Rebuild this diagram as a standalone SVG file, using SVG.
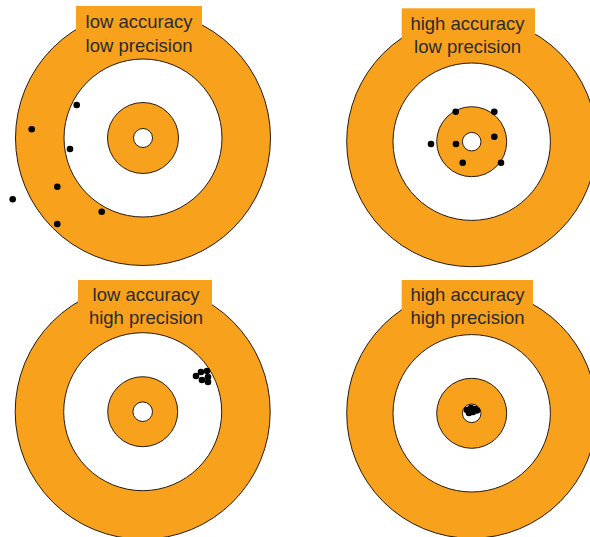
<svg xmlns="http://www.w3.org/2000/svg" width="590" height="537" viewBox="0 0 590 537">
<style>
.o{fill:#F7A11D;stroke:#2a1a0a;stroke-width:1}
.w{fill:#fff;stroke:#2a1a0a;stroke-width:1}
.box{fill:#F7A11D}
.t{font-family:"Liberation Sans",Arial,sans-serif;font-size:18.5px;fill:#2b2b2b;text-anchor:middle}
.d{fill:#000}
</style>
<rect width="590" height="537" fill="#fff"/>
<g id="target-ll">
<circle class="o" cx="143" cy="138" r="127.5"/>
<circle class="w" cx="143" cy="138" r="79"/>
<circle class="o" cx="143" cy="138" r="35.5"/>
<circle class="w" cx="143" cy="138" r="9.5"/>
<rect class="box" x="76" y="6" width="126" height="44"/>
<text class="t" x="139" y="28">low accuracy</text>
<text class="t" x="139" y="52">low precision</text>
<g class="d">
<circle cx="76.7" cy="105" r="3.3"/><circle cx="31.7" cy="129.3" r="3.3"/><circle cx="70" cy="149" r="3.3"/>
<circle cx="57.3" cy="186.7" r="3.3"/><circle cx="12.7" cy="199.3" r="3.3"/><circle cx="101.7" cy="211.7" r="3.3"/>
<circle cx="57.3" cy="224" r="3.3"/>
</g>
</g>
<g id="target-hl">
<circle class="o" cx="471.7" cy="141.7" r="125"/>
<circle class="w" cx="471.7" cy="141.7" r="78.7"/>
<circle class="o" cx="471.7" cy="141.7" r="35"/>
<circle class="w" cx="471.7" cy="141.7" r="9.3"/>
<rect class="box" x="401.7" y="8.3" width="133.3" height="44"/>
<text class="t" x="467.5" y="29.5">high accuracy</text>
<text class="t" x="467.5" y="52.7">low precision</text>
<g class="d">
<circle cx="455.7" cy="111.7" r="3.3"/><circle cx="494.3" cy="111.7" r="3.3"/><circle cx="431" cy="144" r="3.3"/>
<circle cx="456" cy="144" r="3.3"/><circle cx="494.3" cy="136.7" r="3.3"/><circle cx="462.7" cy="162.7" r="3.3"/>
<circle cx="501" cy="162.7" r="3.3"/>
</g>
</g>
<g id="target-lh">
<circle class="o" cx="142.7" cy="411.7" r="127.5"/>
<circle class="w" cx="142.7" cy="411.7" r="79"/>
<circle class="o" cx="142.7" cy="411.7" r="35"/>
<circle class="w" cx="142.7" cy="411.7" r="9.8"/>
<rect class="box" x="78" y="280" width="134" height="44"/>
<text class="t" x="146" y="301">low accuracy</text>
<text class="t" x="146" y="324">high precision</text>
<g class="d">
<circle cx="196" cy="376" r="3.3"/><circle cx="201" cy="372" r="3.3"/><circle cx="207" cy="371" r="3.3"/>
<circle cx="202" cy="380" r="3.3"/><circle cx="208" cy="377" r="3.3"/><circle cx="208" cy="382" r="3.3"/>
</g>
</g>
<g id="target-hh">
<circle class="o" cx="471.7" cy="413.3" r="125"/>
<circle class="w" cx="471.7" cy="413.3" r="78.7"/>
<circle class="o" cx="471.7" cy="413.3" r="35"/>
<circle class="w" cx="471.7" cy="413.3" r="9.3"/>
<rect class="box" x="401.7" y="280" width="131.3" height="44"/>
<text class="t" x="467.5" y="300.5">high accuracy</text>
<text class="t" x="467.5" y="323.5">high precision</text>
<g class="d">
<circle cx="467" cy="410" r="3.3"/><circle cx="471" cy="408" r="3.3"/><circle cx="475" cy="409" r="3.3"/>
<circle cx="469" cy="413" r="3.3"/><circle cx="473" cy="412" r="3.3"/><circle cx="477" cy="410.5" r="3.3"/>
</g>
</g>
</svg>
